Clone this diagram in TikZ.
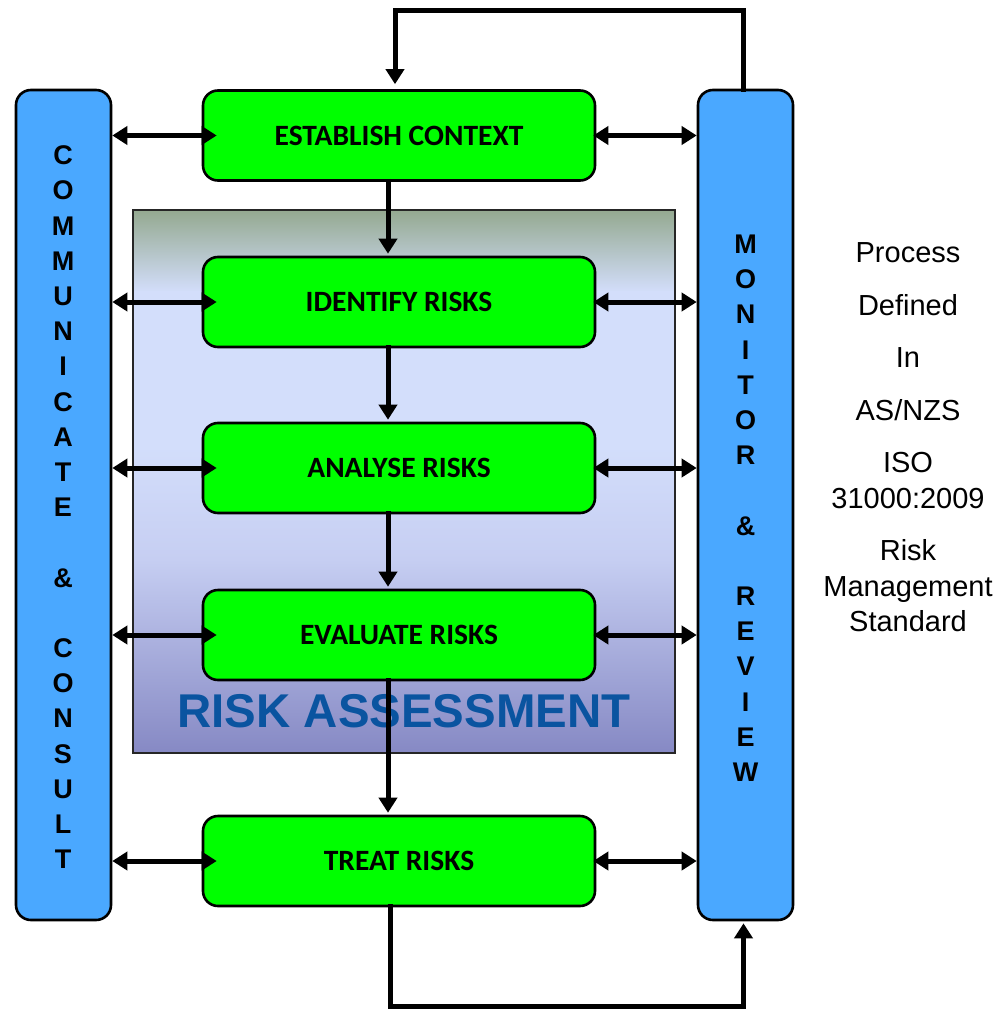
\documentclass[tikz,border=0pt]{standalone}
\usepackage{fontspec}
\setmainfont{Liberation Sans}
\newfontfamily\calibrifont{Carlito}
\usetikzlibrary{arrows.meta}

\definecolor{stepgreen}{HTML}{00FF00}
\definecolor{barblue}{HTML}{4AA8FF}
\definecolor{ratitle}{HTML}{0A54A0}
\definecolor{shadetop}{HTML}{94A990}
\definecolor{shadelight}{HTML}{D3DEFB}
\definecolor{shademid}{HTML}{C6CEF2}
\definecolor{shadebottom}{HTML}{8689C4}

\tikzset{
  stepbox/.style={draw=black, line width=2.6pt, fill=stepgreen, rounded corners=15pt,
    minimum width=392pt, minimum height=90pt, inner sep=0pt,
    font=\calibrifont\bfseries\fontsize{29.5}{32}\selectfont},
  sidebar/.style={draw=black, line width=2.6pt, fill=barblue, rounded corners=15pt,
    minimum width=95pt, minimum height=830pt, inner sep=0pt},
  barletters/.style={inner sep=0pt, align=center, font=\bfseries\fontsize{27}{35.2}\selectfont},
  flow/.style={line width=5pt, -{Triangle[length=15pt,width=18pt]}},
  dbl/.style={line width=5pt, {Triangle[length=15pt,width=18pt]}-{Triangle[length=15pt,width=18pt]}},
}

\begin{document}
\begin{tikzpicture}[x=1pt, y=-1pt]
  \useasboundingbox (0,0) rectangle (1005,1011);
  \fill[white] (0,0) rectangle (1005,1011);

  % risk assessment panel with its vertical shading
  \shade[top color=shadetop, bottom color=shadelight] (133,210) rectangle (675,292);
  \shade[top color=shadelight, bottom color=shadelight!97!shademid] (133,291) rectangle (675,450);
  \shade[top color=shadelight!97!shademid, bottom color=shademid] (133,449) rectangle (675,560);
  \shade[top color=shademid, bottom color=shadebottom] (133,559) rectangle (675,753);
  \draw[line width=2pt, draw=black!85] (133,210) rectangle (675,753);
  \node[inner sep=0pt, text=ratitle, font=\bfseries\fontsize{47.4}{52}\selectfont] (ratext) at (404,711) {RISK ASSESSMENT};

  % side bars
  \node[sidebar] (cc) at (63.5,505) {};
  \node[sidebar] (mr) at (745.5,505) {};
  \node[barletters] (ccl) at (63,507.2) {C\\O\\M\\M\\U\\N\\I\\C\\A\\T\\E\\[35.2pt]\&\\[35.2pt]C\\O\\N\\S\\U\\L\\T};
  \node[barletters] (mrl) at (745.5,508.2) {M\\O\\N\\I\\T\\O\\R\\[35.2pt]\&\\[35.2pt]R\\E\\V\\I\\E\\W};

  % process steps
  \node[stepbox] (b1) at (399,135.5) {ESTABLISH CONTEXT};
  \node[stepbox] (b2) at (399,302) {IDENTIFY RISKS};
  \node[stepbox] (b3) at (399,468) {ANALYSE RISKS};
  \node[stepbox] (b4) at (399,635) {EVALUATE RISKS};
  \node[stepbox] (b5) at (399,861) {TREAT RISKS};

  % standard reference
  \node[inner sep=0pt, align=center, font=\fontsize{29}{35.5}\selectfont] (std) at (908,437.5)
    {Process\\[17pt]Defined\\[17pt]In\\[17pt]AS/NZS\\[17pt]ISO\\31000:2009\\[17pt]Risk\\Management\\Standard};

  % main flow
  \draw[flow] ([xshift=-11pt,yshift=3pt]b1.south) -- ([xshift=-11pt,yshift=2pt]b2.north);
  \draw[flow] ([xshift=-11pt,yshift=3pt]b2.south) -- ([xshift=-11pt,yshift=2pt]b3.north);
  \draw[flow] ([xshift=-11pt,yshift=3pt]b3.south) -- ([xshift=-11pt,yshift=2pt]b4.north);
  \draw[flow] ([xshift=-11pt,yshift=3pt]b4.south) -- ([xshift=-11pt,yshift=2pt]b5.north);

  % feedback loops
  \draw[flow, line cap=butt] ([xshift=-2pt,yshift=-3pt]mr.north) -- ++(0,-81) -| ([xshift=-4pt,yshift=5pt]b1.north);
  \draw[flow] ([xshift=-9pt,yshift=3pt]b5.south) -- ++(0,102) -| ([xshift=-2pt,yshift=-2pt]mr.south);

  % communication links
  \foreach \b in {b1,b2,b3,b4,b5}{
    \draw[dbl] (\b.west -| cc.east) -- ([xshift=15pt]\b.west);
    \draw[dbl] ([xshift=-3pt]\b.east) -- (\b.east -| mr.west);
  }
\end{tikzpicture}
\end{document}
